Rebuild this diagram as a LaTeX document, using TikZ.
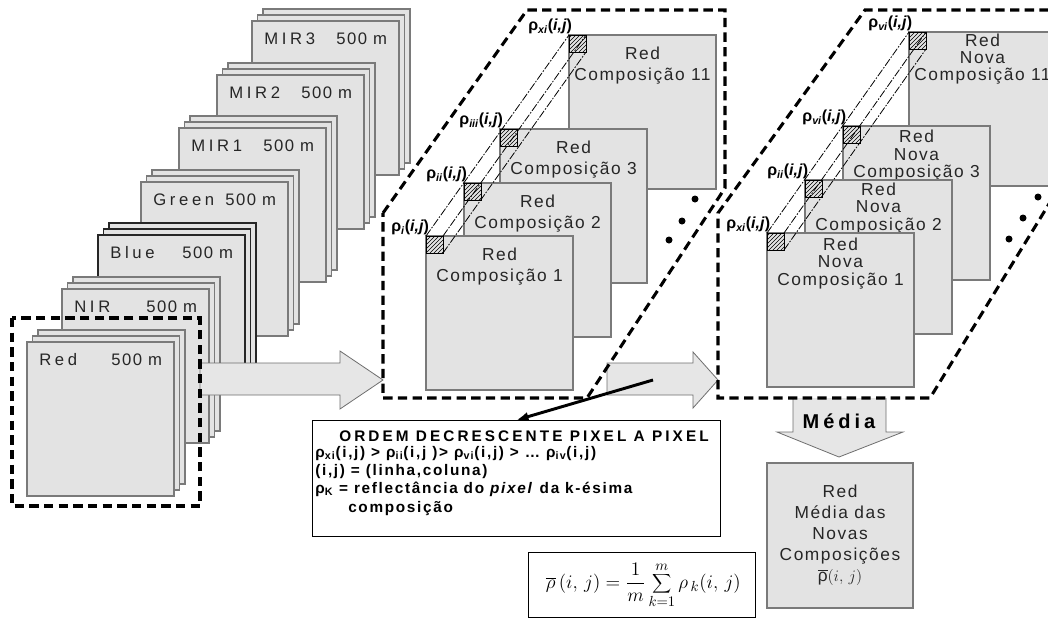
\documentclass[tikz,border=0pt]{standalone}
\usepackage{fontspec}
\setmainfont{Liberation Sans}
\newfontfamily\sheetfont[LetterSpace=9]{Liberation Sans}
\newfontfamily\namefont[LetterSpace=22]{Liberation Sans}
\newfontfamily\ordfont[LetterSpace=11]{Liberation Sans}
\newfontfamily\ordtitle[LetterSpace=20]{Liberation Sans}
\usetikzlibrary{patterns,arrows.meta}
\definecolor{sheetfill}{HTML}{E3E3E3}
\definecolor{sheetdraw}{HTML}{7A7A7A}
\definecolor{arrowfill}{HTML}{E6E6E6}
\definecolor{arrowdraw}{HTML}{6E6E6E}
\definecolor{txt}{HTML}{262626}
\begin{document}
\begin{tikzpicture}[x=0.75pt,y=-0.75pt,
  sheet/.style={draw=sheetdraw, fill=sheetfill, line width=0.8pt, minimum width=110.25pt, minimum height=115.5pt, inner sep=0pt, outer sep=0pt, anchor=north west},
  darksheet/.style={sheet, draw=black!85},
  bandtxt/.style={font=\sheetfont\fontsize{12.5}{15}\selectfont, text=txt, anchor=base west, inner sep=0pt},
  bandname/.style={font=\namefont\fontsize{12.5}{15}\selectfont, text=txt, anchor=base west, inner sep=0pt},
  comptxt/.style={font=\sheetfont\fontsize{13}{15.75}\selectfont, text=txt, align=center, anchor=north, inner sep=0pt},
  novatxt/.style={font=\sheetfont\fontsize{13}{13}\selectfont, text=txt, align=center, anchor=north, inner sep=0pt},
  hsq/.style={draw=black, line width=0.6pt, pattern=north east lines, minimum size=12.75pt, inner sep=0pt, outer sep=0pt, anchor=north west},
  rholab/.style={font=\bfseries\fontsize{12}{13}\selectfont, anchor=south east, inner sep=0.5pt},
  dashbox/.style={draw=black, line width=2.3pt, dash pattern=on 7pt off 4pt},
  bigarrow/.style={draw=arrowdraw, fill=arrowfill, line width=0.6pt},
  prism/.style={draw=black, line width=0.6pt, dash pattern=on 6pt off 1.2pt on 1.2pt off 1.2pt},
  blackdot/.style={circle, fill=black, minimum size=5.25pt, inner sep=0pt},
  ordline/.style={font=\ordfont\bfseries\fontsize{11.5}{13}\selectfont, anchor=base west, inner sep=0pt}
]
\clip (0,0) rectangle (1048,619);
% ---------- band stacks ----------
\foreach \n/\lab/\x/\y/\st in {mirc/MIR3/252/21/sheet, mirb/MIR2/217/75/sheet, mira/MIR1/179/128/sheet, grn/Green/141/182/sheet, blu/Blue/98/235/darksheet, nir/NIR/62/289/sheet, red/Red/27/342/sheet}{
  \node[\st] (\n-c) at (\x+11,\y-12) {};
  \node[\st] (\n-b) at (\x+5.5,\y-6) {};
  \node[\st] (\n-a) at (\x,\y) {};
  \node[bandname] (\n-name) at ([shift={(12,23)}]\n-a.north west) {\lab};
  \node[bandtxt] (\n-res) at ([shift={(84,23)}]\n-a.north west) {500 m};
}
% arrow 1
\draw[bigarrow] (200,363) -- (340,363) -- (340,351) -- (383,380) -- (340,409) -- (340,395) -- (200,395) -- cycle;
\draw[dashbox] (12,318) rectangle (200,506);
% arrow 2 and Media arrow
\draw[bigarrow] (607,363) -- (693,363) -- (693,352) -- (718,380) -- (693,408) -- (693,395) -- (607,395) -- cycle;
\draw[bigarrow] (793,398) -- (793,432) -- (777,432) -- (839,457) -- (903,432) -- (886,432) -- (886,398);
\node[font=\ordtitle\bfseries\fontsize{15}{16}\selectfont, anchor=base, inner sep=0pt] (medlab) at (839,428) {Média};
% ---------- middle composições ----------
\node[sheet] (c11) at (569,35) {};
\node[comptxt] (c11-t) at ([yshift=-9pt]c11.north) {Red\\Composição 11};
\node[hsq] (q11) at (c11.north west) {};
\node[sheet] (c3) at (500,129) {};
\node[comptxt] (c3-t) at ([yshift=-9pt]c3.north) {Red\\Composição 3};
\node[hsq] (q3) at (c3.north west) {};
\node[sheet] (c2) at (464,183) {};
\node[comptxt] (c2-t) at ([yshift=-9pt]c2.north) {Red\\Composição 2};
\node[hsq] (q2) at (c2.north west) {};
\node[sheet] (c1) at (426,236) {};
\node[comptxt] (c1-t) at ([yshift=-9pt]c1.north) {Red\\Composição 1};
\node[hsq] (q1) at (c1.north west) {};
\draw[prism] (q1.north west) -- (q11.north west);
\draw[prism] (q1.north east) -- (q11.north east);
\draw[prism] (q1.south east) -- (q11.south east);
\node[rholab] (l11) at ([xshift=3pt]q11.north west) {ρ\textsubscript{\itshape xi}(\textit{i,j})};
\node[rholab] (l3) at ([xshift=3pt]q3.north west) {ρ\textsubscript{\itshape iii}(\textit{i,j})};
\node[rholab] (l2) at ([xshift=3pt]q2.north west) {ρ\textsubscript{\itshape ii}(\textit{i,j})};
\node[rholab] (l1) at ([xshift=3pt]q1.north west) {ρ\textsubscript{\itshape i}(\textit{i,j})};
\node[blackdot] (d1) at (695,199) {};
\node[blackdot] (d2) at (682,221) {};
\node[blackdot] (d3) at (669,240) {};
% ---------- right novas composições ----------
\node[sheet] (n11) at (909,32) {};
\node[novatxt] (n11-t) at ([yshift=-1pt]n11.north) {Red\\Nova\\Composição 11};
\node[hsq] (p11) at (n11.north west) {};
\node[sheet] (n3) at (843,126) {};
\node[novatxt] (n3-t) at ([yshift=-3pt]n3.north) {Red\\Nova\\Composição 3};
\node[hsq] (p3) at (n3.north west) {};
\node[sheet] (n2) at (805,180) {};
\node[novatxt] (n2-t) at ([yshift=-2pt]n2.north) {Red\\Nova\\Composição 2};
\node[hsq] (p2) at (n2.north west) {};
\node[sheet] (n1) at (767,233) {};
\node[novatxt] (n1-t) at ([yshift=-3.5pt]n1.north) {Red\\Nova\\Composição 1};
\node[hsq] (p1) at (n1.north west) {};
\draw[prism] (p1.north west) -- (p11.north west);
\draw[prism] (p1.north east) -- (p11.north east);
\draw[prism] (p1.south east) -- (p11.south east);
\node[rholab] (m11) at ([xshift=3pt]p11.north west) {ρ\textsubscript{\itshape vi}(\textit{i,j})};
\node[rholab] (m3) at ([xshift=3pt]p3.north west) {ρ\textsubscript{\itshape vi}(\textit{i,j})};
\node[rholab] (m2) at ([xshift=3pt]p2.north west) {ρ\textsubscript{\itshape ii}(\textit{i,j})};
\node[rholab] (m1) at ([xshift=3pt]p1.north west) {ρ\textsubscript{\itshape xi}(\textit{i,j})};
\node[blackdot] (e1) at (1038,197) {};
\node[blackdot] (e2) at (1023,218) {};
\node[blackdot] (e3) at (1009,239) {};
% dashed parallelograms
\draw[dashbox] (383,213) -- (527,10) -- (725,10) -- (725,188) -- (587,398) -- (383,398) -- cycle;
\draw[dashbox] (1060,186) -- (930,398) -- (718,398) -- (718,213) -- (865,10) -- (1060,10);
% ---------- ORDEM box ----------
\node[draw, line width=0.8pt, minimum width=306pt, minimum height=87pt, inner sep=0pt, anchor=north west] (ord) at (312,420) {};
\node[font=\ordtitle\bfseries\fontsize{11.5}{13}\selectfont, anchor=base, inner sep=0pt] (ord-title) at (524,441) {ORDEM DECRESCENTE PIXEL A PIXEL};
\node[ordline] (ord-a) at (315,457) {ρ\textsubscript{xi}(i,j) > ρ\textsubscript{ii}(i,j )> ρ\textsubscript{vi}(i,j) > \ldots\ ρ\textsubscript{iv}(i,j)};
\node[ordline] (ord-b) at (315,475) {(i,j) = (linha,coluna)};
\node[ordline] (ord-c) at (315,493) {ρ\textsubscript{K} = reflectância do \textit{pixel} da k-ésima};
\node[ordline] (ord-d) at (348,512) {composição};
\coordinate (ts) at (653,380);
\draw[line width=2.2pt, -{Latex[length=9pt,width=7pt]}] (ts) -- (ord.north);
% ---------- formula ----------
\node[draw, line width=0.8pt, minimum width=170.25pt, minimum height=48.75pt, inner sep=0pt, anchor=north west] (fbox) at (528,552) {};
\node[font=\fontsize{15}{17}\selectfont, inner sep=0pt] (form) at ([xshift=1pt]fbox.center) {$\displaystyle \overline{\rho}\,(i,\,j)=\frac{1}{m}\sum_{k=1}^{m}\rho_{\,k}(i,\,j)$};
% ---------- media box ----------
\node[sheet, minimum width=109.5pt, minimum height=108.75pt] (med) at (767,463) {};
\node[font=\sheetfont\fontsize{13}{15.75}\selectfont, text=txt, align=center, anchor=north, inner sep=0pt] (med-t) at (840,485) {Red\\Média das\\Novas\\Composições\\$\overline{\mbox{ρ}}(i,\,j)$};
\end{tikzpicture}
\end{document}
